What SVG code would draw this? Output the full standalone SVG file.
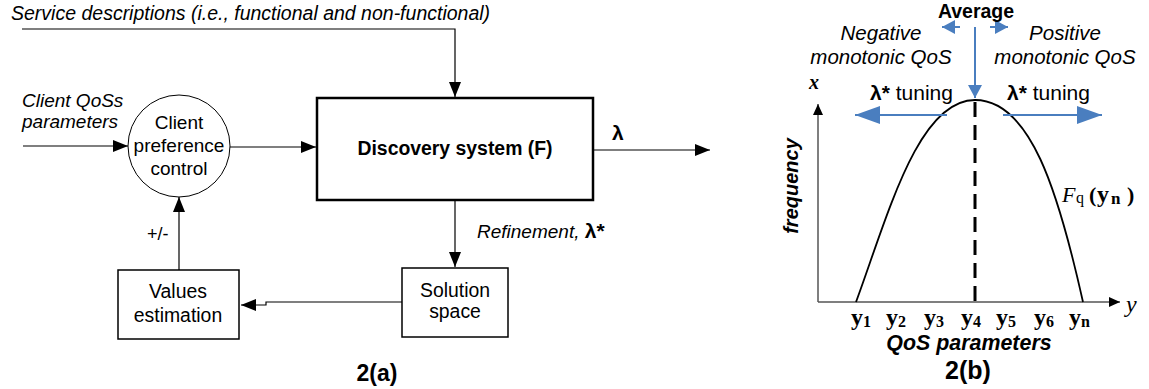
<svg xmlns="http://www.w3.org/2000/svg" width="1149" height="389" viewBox="0 0 1149 389">
<defs>
<style>
.ln{fill:none;stroke:#000;stroke-width:1.2}
.box{fill:#fff;stroke:#000;stroke-width:1.5}
.t{font-family:"Liberation Sans",Arial,sans-serif;fill:#000}
.it{font-style:italic}
.b{font-weight:bold}
.m{text-anchor:middle}
.ser{font-family:"Liberation Serif","Times New Roman",serif;font-weight:bold}
.blue{fill:none;stroke:#4a7ebf;stroke-width:2}
</style>
<marker id="ah" markerUnits="userSpaceOnUse" markerWidth="16" markerHeight="12" refX="15" refY="6" orient="auto"><path d="M0,0 L15,6 L0,12 Z" fill="#000"/></marker>
<marker id="ahs" markerUnits="userSpaceOnUse" markerWidth="12" markerHeight="10" refX="11" refY="5" orient="auto"><path d="M0,0 L11,5 L0,10 Z" fill="#000"/></marker>
<marker id="bh" markerUnits="userSpaceOnUse" markerWidth="26" markerHeight="18" refX="25" refY="9" orient="auto"><path d="M0,0 L25,9 L0,18 Z" fill="#4a7ebf"/></marker>
<marker id="bhs" markerUnits="userSpaceOnUse" markerWidth="14" markerHeight="14" refX="13" refY="7" orient="auto"><path d="M0,0 L13,7 L0,14 Z" fill="#4a7ebf"/></marker>
</defs>
<rect width="1149" height="389" fill="#fff"/>

<!-- Diagram 2(a) -->
<g id="connectors">
<path class="ln" d="M22,29 H455 V97" marker-end="url(#ah)"/>
<path class="ln" d="M23,146 H128" marker-end="url(#ah)"/>
<path class="ln" d="M230,147 H316" marker-end="url(#ah)"/>
<path class="ln" d="M593,150 H710" marker-end="url(#ah)"/>
<path class="ln" d="M455,200 V267" marker-end="url(#ah)"/>
<path class="ln" d="M402,302 H266 V305 H241" marker-end="url(#ah)"/>
<path class="ln" d="M179,270 V197" stroke="#555" marker-end="url(#ah)"/>
</g>
<text class="t it" x="11" y="20" font-size="19.5">Service descriptions (i.e., functional and non-functional)</text>
<text class="t it" x="22" y="107" font-size="19">Client QoSs</text>
<text class="t it" x="22" y="128" font-size="19">parameters</text>
<text class="t" x="147" y="240" font-size="18">+/-</text>
<text class="t it" x="477" y="238" font-size="19">Refinement, <tspan font-style="normal" font-weight="bold" font-size="21">λ*</tspan></text>
<text class="t b" x="612" y="140" font-size="21">λ</text>

<g id="client">
<circle cx="179" cy="146" r="51" fill="#fff" stroke="#000" stroke-width="1"/>
<text class="t m" x="179" y="129" font-size="19">Client</text>
<text class="t m" x="179" y="152" font-size="19">preference</text>
<text class="t m" x="179" y="175" font-size="19">control</text>
</g>
<g id="discovery">
<rect x="317" y="98" width="276" height="102" fill="#fff" stroke="#000" stroke-width="2.5"/>
<text class="t b m" x="455" y="155" font-size="19.4">Discovery system (F)</text>
</g>
<g id="solution">
<rect class="box" x="402" y="268" width="106" height="69"/>
<text class="t m" x="455" y="297" font-size="19.4">Solution</text>
<text class="t m" x="455" y="318" font-size="19.4">space</text>
</g>
<g id="values">
<rect class="box" x="118" y="270" width="121" height="69"/>
<text class="t m" x="178" y="298" font-size="19.4">Values</text>
<text class="t m" x="178" y="322" font-size="19.4">estimation</text>
</g>
<text class="t b m" x="377" y="381" font-size="23">2(a)</text>

<!-- Diagram 2(b) -->
<g id="chart">
<path d="M818,302 V104" fill="none" stroke="#555" stroke-width="1.5" marker-end="url(#ahs)"/>
<path d="M818,302 H1120" fill="none" stroke="#555" stroke-width="1.5" marker-end="url(#ahs)"/>
<path d="M856,302 C888,215 918,100 975,100 C1030,100 1058,190 1083,302" fill="none" stroke="#000" stroke-width="1.8"/>
<path d="M975,102 V302" fill="none" stroke="#000" stroke-width="3" stroke-dasharray="15,8"/>
<path class="blue" d="M975,27 V98" marker-end="url(#bhs)"/>
<path class="blue" d="M960,27 H942" marker-end="url(#bhs)"/>
<path class="blue" d="M990,27 H1008" marker-end="url(#bhs)"/>
<path class="blue" d="M947,115 H855" marker-end="url(#bh)"/>
<path class="blue" d="M1003,115 H1102" marker-end="url(#bh)"/>
</g>
<text class="t b m" x="976" y="18" font-size="19.5">Average</text>
<text class="t it m" x="881" y="40" font-size="20.5">Negative</text>
<text class="t it m" x="881" y="64" font-size="20.5">monotonic QoS</text>
<text class="t it m" x="1065" y="40" font-size="20.5">Positive</text>
<text class="t it m" x="1065" y="64" font-size="20.5">monotonic QoS</text>
<text class="t" x="870" y="100" font-size="21"><tspan font-weight="bold">λ*</tspan> tuning</text>
<text class="t" x="1007" y="100" font-size="21"><tspan font-weight="bold">λ*</tspan> tuning</text>
<text x="809" y="89" font-family="Liberation Serif,serif" font-style="italic" font-weight="bold" font-size="20">x</text>
<text x="1126" y="312" font-family="Liberation Serif,serif" font-style="italic" font-size="24">y</text>
<text class="t it b m" transform="translate(798,186) rotate(-90)" font-size="20">frequency</text>
<g font-family="Liberation Serif,serif" font-size="22">
<text x="1062" y="202" font-style="italic">F</text>
<text x="1076" y="203" font-size="16">q</text>
<text x="1089" y="202" font-weight="bold">(</text>
<text x="1097" y="202" font-weight="bold" font-size="24">y</text>
<text x="1111" y="204" font-weight="bold" font-size="17">n</text>
<text x="1127" y="202" font-weight="bold">)</text>
</g>
<g class="ser" font-size="24">
<text x="851" y="325">y<tspan font-size="16" dy="2">1</tspan></text>
<text x="886" y="325">y<tspan font-size="16" dy="2">2</tspan></text>
<text x="924" y="325">y<tspan font-size="16" dy="2">3</tspan></text>
<text x="961" y="325">y<tspan font-size="16" dy="2">4</tspan></text>
<text x="996" y="325">y<tspan font-size="16" dy="2">5</tspan></text>
<text x="1034" y="325">y<tspan font-size="16" dy="2">6</tspan></text>
<text x="1069" y="325">y<tspan font-size="16" dy="2">n</tspan></text>
</g>
<text class="t it b m" x="969" y="350" font-size="21.4">QoS parameters</text>
<text class="t b m" x="968" y="379" font-size="25">2(b)</text>
</svg>
